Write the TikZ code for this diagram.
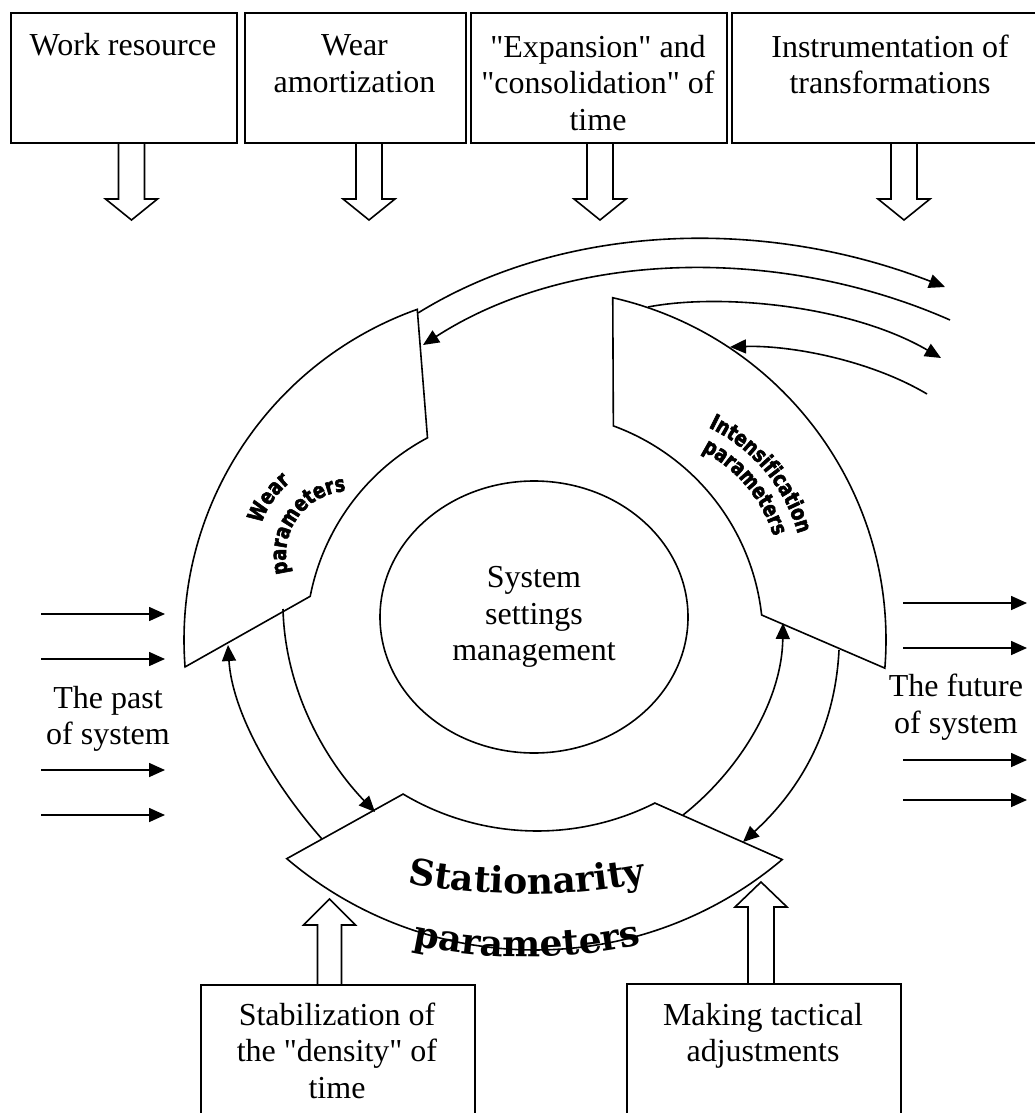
\documentclass[tikz,border=0pt]{standalone}
\usepackage{fontspec}
\setmainfont{Liberation Serif}[Ligatures=TeXOff]
\newfontfamily\heavyfont{DejaVu Sans}[FakeStretch=0.8, BoldFeatures={FakeBold=2.5}]
\newfontfamily\artfont{DejaVu Serif}[Ligatures=TeXOff]
\newcommand\wearfmt{\heavyfont\bfseries\fontsize{22}{23}\selectfont}
\newcommand\statfmt{\artfont\bfseries\fontsize{36}{38}\selectfont}
\usetikzlibrary{arrows.meta,calc,decorations.text,shapes.geometric}
\begin{document}
\begin{tikzpicture}[x=1pt,y=1pt,line width=1.7pt,
  every node/.style={font=\fontsize{32}{36.5}\selectfont},
  boxframe/.style={draw, line width=1.7pt, inner sep=0pt, anchor=north west},
  boxtext/.style={align=center, inner sep=0pt, anchor=north},
  flow/.style={-{Triangle[length=16pt,width=14pt]}, line width=1.6pt},
  hollow/.style={draw, line width=1.6pt, line join=miter},
  sector/.style={draw, fill=white, line width=1.6pt, line join=miter},
  curvetext/.style={decorate, decoration={text along path, text align=center, text={#1}}},
  pics/downblock/.style={code={\draw[hollow] (-13,0) -- (-13,-57) -- (-26,-57) -- (0,-78) -- (26,-57) -- (13,-57) -- (13,0);}}]

\path[use as bounding box, clip] (0,0) rectangle (1035,-1113);

% ---- top boxes
\node[boxframe, minimum width=226pt, minimum height=130pt] (box1) at (10,-12) {};
\node[boxframe, minimum width=221pt, minimum height=130pt] (box2) at (244,-12) {};
\node[boxframe, minimum width=256pt, minimum height=130pt] (box3) at (470,-12) {};
\node[boxframe, minimum width=320pt, minimum height=130pt] (box4) at (731,-12) {};
\node[boxtext] (t1) at (123,-32) {Work resource};
\node[boxtext] (t2) at (354.5,-34) {Wear\\amortization};
\node[boxtext] (t3) at (598,-34) {"Expansion" and\\"consolidation" of\\time};
\node[boxtext] (t4) at (890,-34) {Instrumentation of\\transformations};
\pic at (131.5,-142) {downblock};
\pic at (369,-142) {downblock};
\pic at (600,-142) {downblock};
\pic at (904,-142) {downblock};

% ---- ring sectors
\coordinate (rc) at (535,-640);
\draw[sector] ($(rc)+(184.4:351)$) arc[start angle=184.4, end angle=109.6, radius=351]
  -- ($(rc)+(118:229)$) arc[start angle=118, end angle=169, radius=229] -- cycle;
\draw[sector] ($(rc)+(77.2:351)$) arc[start angle=77.2, end angle=-4.6, radius=351]
  -- ($(rc)+(6.3:228)$) arc[start angle=6.3, end angle=69.9, radius=228] -- cycle;
\coordinate (so) at (535,-567);
\coordinate (si) at (537.2,-569.1);
\draw[sector] ($(so)+(-130.4:383)$) -- ($(si)+(-120.8:261.9)$)
  arc[start angle=-120.8, end angle=-63.3, radius=261.9]
  -- ($(so)+(-49.8:383)$) arc[start angle=-49.8, end angle=-130.4, radius=383] -- cycle;

% ---- core
\node[draw, ellipse, minimum width=308pt, minimum height=272pt, inner sep=0pt, align=center, line width=1.6pt] (core) at (534,-617) {System\\settings\\management};

% ---- bottom boxes
\draw[hollow] (317.5,-984) -- (317.5,-925) -- (303.5,-925) -- (329.5,-899) -- (355.5,-925) -- (341.5,-925) -- (341.5,-984);
\draw[hollow] (748,-983) -- (748,-907) -- (735,-907) -- (761,-882) -- (787,-907) -- (774,-907) -- (774,-983);
\node[boxframe, minimum width=274pt, minimum height=200pt] (box5) at (200,-984) {};
\node[boxframe, minimum width=274pt, minimum height=200pt] (box6) at (626,-983) {};
\node[boxtext] (t5) at (337,-1002) {Stabilization of\\the "density" of\\time};
\node[boxtext] (t6) at (763,-1002) {Making tactical\\adjustments};

% ---- past / future
\foreach \yy [count=\i] in {614,659,770,815} {
  \coordinate (pL\i) at (41,-\yy); \coordinate (pR\i) at (165,-\yy);
  \draw[flow] (pL\i) -- (pR\i);
}
\foreach \yy [count=\i] in {603,648,760,800} {
  \coordinate (fL\i) at (903,-\yy); \coordinate (fR\i) at (1027,-\yy);
  \draw[flow] (fL\i) -- (fR\i);
}
\node[align=center, inner sep=0pt] (past) at (108,-719) {The past\\of system};
\node[align=center, inner sep=0pt] (future) at (956,-707) {The future\\of system};

% ---- curved connectors
\coordinate (aS) at (418,-313); \coordinate (aE) at (945,-287);
\draw[flow] (aS) .. controls (560,-225) and (760,-215) .. (aE);
\coordinate (bS) at (950,-320); \coordinate (bE) at (423,-345);
\draw[flow] (bS) .. controls (780,-245) and (570,-250) .. (bE);
\coordinate (cS) at (648,-307); \coordinate (cE) at (941,-358);
\draw[flow] (cS) .. controls (720,-293) and (850,-305) .. (cE);
\coordinate (dS) at (927,-394); \coordinate (dE) at (730,-347);
\draw[flow] (dS) .. controls (870,-360) and (790,-345) .. (dE);
\coordinate (eS) at (322,-839); \coordinate (eE) at (228,-645);
\draw[flow] (eS) .. controls (270,-780) and (232,-710) .. (eE);
\coordinate (fS) at (283,-609); \coordinate (fE) at (375,-812);
\draw[flow] (fS) .. controls (285,-690) and (325,-760) .. (fE);
\coordinate (gS) at (683,-815); \coordinate (gE) at (783,-623);
\draw[flow] (gS) .. controls (740,-770) and (782,-700) .. (gE);
\coordinate (hS) at (839,-650); \coordinate (hE) at (743,-842);
\draw[flow] (hS) .. controls (835,-730) and (800,-790) .. (hE);

% ---- curved labels
\coordinate (wc) at (350,-555);
\path[curvetext={|\wearfmt|Wear}] ($(wc)+(215:94)$) arc[start angle=215, end angle=75, radius=94];
\path[curvetext={|\wearfmt|parameters}] ($(wc)+(215:64)$) arc[start angle=215, end angle=75, radius=64];
\coordinate (ic) at (636,-579);
\path[curvetext={|\wearfmt|Intensification}] ($(ic)+(95:168)$) arc[start angle=95, end angle=-15, radius=168];
\path[curvetext={|\wearfmt|parameters}] ($(ic)+(95:144)$) arc[start angle=95, end angle=-15, radius=144];
\coordinate (sc) at (527,-244);
\path[curvetext={|\statfmt|Stationarity}] ($(sc)+(-110:650)$) arc[start angle=-110, end angle=-70, radius=650];
\coordinate (pc) at (527,-407);
\path[curvetext={|\statfmt|parameters}] ($(pc)+(-115:550)$) arc[start angle=-115, end angle=-65, radius=550];
\end{tikzpicture}
\end{document}
